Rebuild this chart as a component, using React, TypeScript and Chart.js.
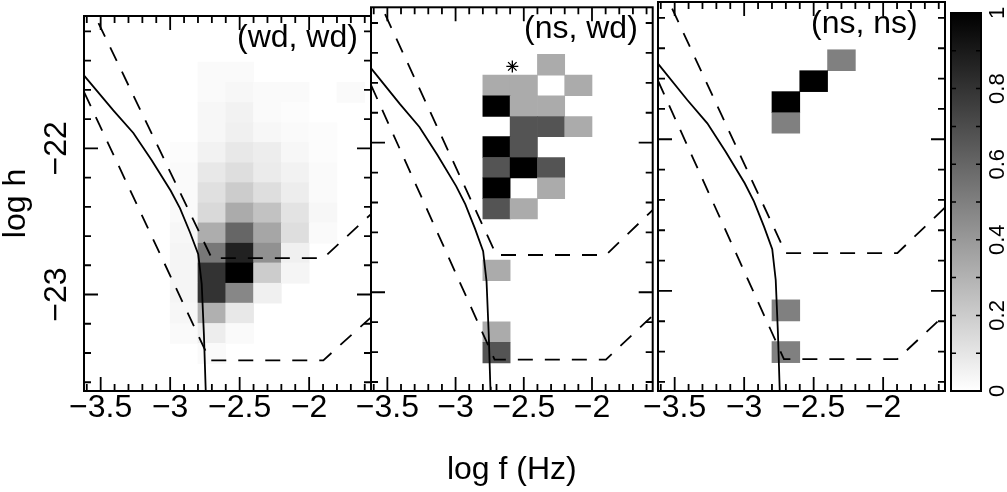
import React, { useEffect, useRef } from 'react';
import { Chart, registerables } from 'chart.js';

Chart.register(...registerables);

// ---------- data ----------
const xBinCenters = [-2.9, -2.7, -2.5, -2.3, -2.1, -1.9, -1.7];
const yBinEdges = [-21.41, -21.548, -21.686, -21.825, -21.96, -22.099, -22.235, -22.374, -22.51, -22.649, -22.784, -22.923, -23.059, -23.198, -23.334, -23.473];

const wdwd = [
  [0, 0.02, 0.02, 0, 0, 0, 0],
  [0, 0.02, 0.03, 0.02, 0.02, 0, 0.02],
  [0, 0.03, 0.05, 0.02, 0.01, 0, 0],
  [0, 0.03, 0.06, 0.03, 0.02, 0.01, 0],
  [0.01, 0.05, 0.09, 0.07, 0.03, 0.01, 0],
  [0.02, 0.09, 0.13, 0.08, 0.05, 0.02, 0],
  [0.02, 0.12, 0.2, 0.13, 0.07, 0.02, 0],
  [0.02, 0.15, 0.33, 0.24, 0.11, 0.03, 0],
  [0.03, 0.32, 0.6, 0.35, 0.13, 0.02, 0],
  [0.04, 0.53, 0.87, 0.43, 0.06, 0, 0],
  [0.04, 0.8, 1.0, 0.2, 0.04, 0, 0],
  [0.04, 0.8, 0.47, 0.06, 0, 0, 0],
  [0.03, 0.31, 0.09, 0, 0, 0, 0],
  [0.02, 0.07, 0.02, 0, 0, 0, 0],
  [0, 0.02, 0, 0, 0, 0, 0],
];

const nswd = [
  [0, 0, 0, 0.33, 0, 0, 0],
  [0, 0.33, 0.33, 0, 0.33, 0, 0],
  [0, 1, 0.33, 0.33, 0, 0, 0],
  [0, 0, 0.67, 0.67, 0.33, 0, 0],
  [0, 1, 0.67, 0, 0, 0, 0],
  [0, 0.67, 1, 0.67, 0, 0, 0],
  [0, 1, 0, 0.33, 0, 0, 0],
  [0, 0.67, 0.33, 0, 0, 0, 0],
  [0, 0, 0, 0, 0, 0, 0],
  [0, 0, 0, 0, 0, 0, 0],
  [0, 0.33, 0, 0, 0, 0, 0],
  [0, 0, 0, 0, 0, 0, 0],
  [0, 0, 0, 0, 0, 0, 0],
  [0, 0.33, 0, 0, 0, 0, 0],
  [0, 0.67, 0, 0, 0, 0, 0],
];

const nsns = [
  [0, 0, 0, 0.5, 0, 0, 0],
  [0, 0, 1, 0, 0, 0, 0],
  [0, 1, 0, 0, 0, 0, 0],
  [0, 0.5, 0, 0, 0, 0, 0],
  [0, 0, 0, 0, 0, 0, 0],
  [0, 0, 0, 0, 0, 0, 0],
  [0, 0, 0, 0, 0, 0, 0],
  [0, 0, 0, 0, 0, 0, 0],
  [0, 0, 0, 0, 0, 0, 0],
  [0, 0, 0, 0, 0, 0, 0],
  [0, 0, 0, 0, 0, 0, 0],
  [0, 0, 0, 0, 0, 0, 0],
  [0, 0.5, 0, 0, 0, 0, 0],
  [0, 0, 0, 0, 0, 0, 0],
  [0, 0.5, 0, 0, 0, 0, 0],
];

const solidX = [-3.66, -3.613, -3.409, -3.265, -3.133, -2.996, -2.929, -2.857, -2.798, -2.773, -2.757, -2.745, -2.742];
const solidY = [-21.457, -21.51, -21.741, -21.895, -22.082, -22.29, -22.411, -22.576, -22.725, -22.928, -23.279, -23.631, -23.72];

const upperDashX = [-3.6, -2.701, -1.898, -1.5];
const upperDashY = [-20.977, -22.751, -22.751, -22.402];

const lowerDashX = [-3.7, -2.714, -1.898, -1.5];
const lowerDashY = [-21.452, -23.45, -23.45, -23.109];

const starX = [-2.584];
const starY = [-21.49];

const panelMatrices = [wdwd, nswd, nsns];
const panelLabels = ['(wd, wd)', '(ns, wd)', '(ns, ns)'];

const xTickValues = [-3.5, -3, -2.5, -2];
const yTickValues = [-23, -22];
const colorTickValues = [0, 0.2, 0.4, 0.6, 0.8, 1];

const X_MIN = -3.62;
const X_MAX = -1.555;
const Y_MIN = -23.66;
const Y_MAX = -21.095;

// ---------- helpers ----------
const FONT = "'Liberation Sans', Arial, sans-serif";

const gray = (v: number) => {
  const g = Math.round(255 * (1 - Math.max(0, Math.min(1, v))));
  return `rgb(${g},${g},${g})`;
};

const fmt = (v: number) => (v < 0 ? '\u2212' : '') + String(Math.abs(Math.round(v * 100) / 100));

const toPts = (xs: number[], ys: number[]) => xs.map((x, i) => ({ x, y: ys[i] }));

const cells = (m: number[][]) => {
  const out: any[] = [];
  m.forEach((row, r) =>
    row.forEach((v, c) => {
      if (v > 0) out.push({ x: xBinCenters[c], y: [yBinEdges[r + 1], yBinEdges[r]], v });
    })
  );
  return out;
};

const framePlugin = (label: string) => ({
  id: 'frame',
  afterDatasetsDraw(chart: any) {
    const { ctx, chartArea: a, scales } = chart;
    const xs = scales.x;
    const ys = scales.y;
    ctx.save();
    ctx.strokeStyle = '#000';
    ctx.lineWidth = 1.8;
    ctx.beginPath();
    for (let k = -36; k <= -16; k++) {
      const v = k / 10;
      const px = xs.getPixelForValue(v);
      const len = k % 5 === 0 ? 14 : 7;
      ctx.moveTo(px, a.bottom);
      ctx.lineTo(px, a.bottom - len);
      ctx.moveTo(px, a.top);
      ctx.lineTo(px, a.top + len);
    }
    for (let k = -118; k <= -106; k++) {
      const v = k / 5;
      const py = ys.getPixelForValue(v);
      const len = k % 5 === 0 ? 14 : 7;
      ctx.moveTo(a.left, py);
      ctx.lineTo(a.left + len, py);
      ctx.moveTo(a.right, py);
      ctx.lineTo(a.right - len, py);
    }
    ctx.stroke();
    ctx.lineWidth = 2;
    ctx.strokeRect(a.left, a.top, a.right - a.left, a.bottom - a.top);
    ctx.fillStyle = '#000';
    ctx.font = `32px ${FONT}`;
    ctx.textAlign = 'left';
    ctx.textBaseline = 'alphabetic';
    ctx.fillText(label, a.left + 153, a.top + 31);
    ctx.restore();
  },
});

const colorbarPlugin = {
  id: 'cbframe',
  afterDatasetsDraw(chart: any) {
    const { ctx, chartArea: a, scales } = chart;
    const ys = scales.y;
    ctx.save();
    ctx.strokeStyle = '#000';
    ctx.lineWidth = 1.5;
    ctx.beginPath();
    for (let k = 1; k <= 9; k++) {
      const py = ys.getPixelForValue(k / 10);
      ctx.moveTo(a.left, py);
      ctx.lineTo(a.left + 5, py);
      ctx.moveTo(a.right, py);
      ctx.lineTo(a.right - 5, py);
    }
    ctx.stroke();
    ctx.lineWidth = 2;
    ctx.strokeRect(a.left, a.top, a.right - a.left, a.bottom - a.top);
    ctx.restore();
  },
};

const W = 1007;
const H = 492;
const AREA_LEFTS = [84, 371, 658];
const AREA_W = 287;
const Y_AXIS_W = 84;
const PANEL_CANVAS_W = Y_AXIS_W + AREA_W + 2;

function panelConfig(i: number): any {
  const datasets: any[] = [
    {
      type: 'line',
      data: toPts(solidX, solidY),
      borderColor: '#000',
      borderWidth: 1.8,
      pointRadius: 0,
      fill: false,
      order: 0,
    },
    {
      type: 'line',
      data: toPts(upperDashX, upperDashY),
      borderColor: '#000',
      borderWidth: 1.8,
      borderDash: [15, 12],
      pointRadius: 0,
      fill: false,
      order: 0,
    },
    {
      type: 'line',
      data: toPts(lowerDashX, lowerDashY),
      borderColor: '#000',
      borderWidth: 1.8,
      borderDash: [15, 12],
      pointRadius: 0,
      fill: false,
      order: 0,
    },
  ];
  if (i === 1) {
    datasets.push({
      type: 'scatter',
      data: toPts(starX, starY),
      pointStyle: 'star',
      pointRadius: 6,
      borderColor: '#000',
      backgroundColor: '#000',
      borderWidth: 1.3,
      order: 0,
    });
  }
  datasets.push({
    type: 'bar',
    data: cells(panelMatrices[i]),
    backgroundColor: (c: any) => (c.raw && typeof c.raw.v === 'number' ? gray(c.raw.v) : '#fff'),
    borderWidth: 0,
    grouped: false,
    categoryPercentage: 1,
    barPercentage: 1,
    order: 5,
  });

  return {
    type: 'bar',
    data: { datasets },
    options: {
      responsive: false,
      animation: false,
      devicePixelRatio: 1,
      layout: { padding: { top: 2, right: 2, left: 0, bottom: 0 } },
      plugins: { legend: { display: false }, tooltip: { enabled: false } },
      scales: {
        x: {
          type: 'linear',
          min: X_MIN,
          max: X_MAX,
          offset: false,
          grid: { display: false, drawTicks: false, offset: false },
          border: { display: false },
          afterBuildTicks: (s: any) => {
            s.ticks = xTickValues.map((v) => ({ value: v }));
          },
          ticks: {
            color: '#000',
            font: { family: FONT, size: 32, lineHeight: 1 },
            padding: 1,
            maxRotation: 0,
            minRotation: 0,
            autoSkip: false,
            callback: (v: any) => fmt(Number(v)),
          },
          afterFit: (s: any) => {
            s.height = H - 391;
          },
          title: {
            display: i === 1,
            text: 'log f (Hz)',
            color: '#000',
            font: { family: FONT, size: 32, lineHeight: 1 },
            padding: { top: 0, bottom: 6 },
          },
        },
        y: {
          type: 'linear',
          min: Y_MIN,
          max: Y_MAX,
          grid: { display: false, drawTicks: false },
          border: { display: false },
          afterBuildTicks: (s: any) => {
            s.ticks = yTickValues.map((v) => ({ value: v }));
          },
          ticks: {
            display: i === 0,
            color: '#000',
            font: { family: FONT, size: 32, lineHeight: 1 },
            minRotation: 90,
            maxRotation: 90,
            crossAlign: 'center',
            padding: 0,
            autoSkip: false,
            callback: (v: any) => fmt(Number(v)),
          },
          afterFit: (s: any) => {
            s.width = Y_AXIS_W;
          },
          title: {
            display: i === 0,
            text: 'log h',
            color: '#000',
            font: { family: FONT, size: 32, lineHeight: 1 },
            padding: { top: 0, bottom: 0 },
          },
        },
      },
    },
    plugins: [framePlugin(panelLabels[i])],
  };
}

function colorbarConfig(): any {
  return {
    type: 'bar',
    data: {
      labels: [''],
      datasets: [
        {
          data: [[0, 1]],
          backgroundColor: (c: any) => {
            const chart = c.chart;
            const a = chart.chartArea;
            if (!a) return '#888';
            const g = chart.ctx.createLinearGradient(0, a.bottom, 0, a.top);
            g.addColorStop(0, gray(0));
            g.addColorStop(1, gray(1));
            return g;
          },
          borderWidth: 0,
          categoryPercentage: 1,
          barPercentage: 1,
        },
      ],
    },
    options: {
      responsive: false,
      animation: false,
      devicePixelRatio: 1,
      layout: { padding: { left: 51, top: 2, bottom: H - 391, right: 0 } },
      plugins: { legend: { display: false }, tooltip: { enabled: false } },
      scales: {
        x: { display: false },
        y: {
          position: 'right',
          min: 0,
          max: 1,
          grid: { display: false, drawTicks: false },
          border: { display: false },
          afterBuildTicks: (s: any) => {
            s.ticks = colorTickValues.map((v) => ({ value: v }));
          },
          ticks: {
            color: '#000',
            font: { family: FONT, size: 22, lineHeight: 1 },
            minRotation: 90,
            maxRotation: 90,
            crossAlign: 'center',
            padding: 2,
            autoSkip: false,
            callback: (v: any) => String(Math.round(Number(v) * 10) / 10),
          },
          afterFit: (s: any) => {
            s.width = 26;
          },
        },
      },
    },
    plugins: [colorbarPlugin],
  };
}

function ChartCanvas({ config, left, width }: { config: () => any; left: number; width: number }) {
  const ref = useRef<HTMLCanvasElement | null>(null);
  useEffect(() => {
    if (!ref.current) return;
    const chart = new Chart(ref.current, config());
    return () => chart.destroy();
  }, []);
  return (
    <canvas
      ref={ref}
      width={width}
      height={H}
      style={{ position: 'absolute', left, top: 0, width, height: H }}
    />
  );
}

export default function App() {
  return (
    <div style={{ position: 'absolute', left: 0, top: 0, width: W, height: H, background: '#fff', overflow: 'hidden' }}>
      {AREA_LEFTS.map((al, i) => (
        <ChartCanvas key={i} config={() => panelConfig(i)} left={al - Y_AXIS_W} width={PANEL_CANVAS_W} />
      ))}
      <ChartCanvas config={colorbarConfig} left={900} width={W - 900} />
    </div>
  );
}
